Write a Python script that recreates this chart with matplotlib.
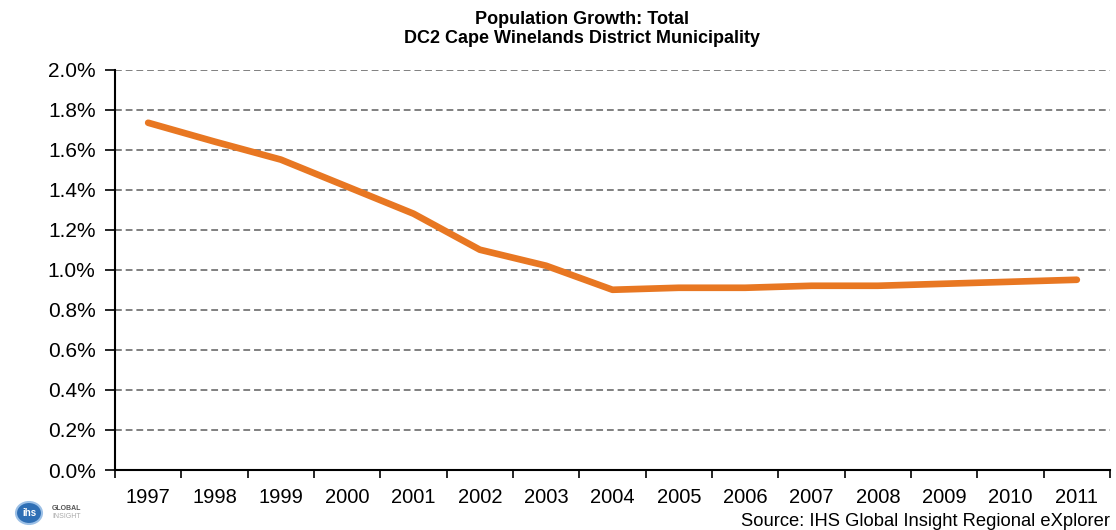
import numpy as np
import matplotlib
matplotlib.use('Agg')
import matplotlib.pyplot as plt
from matplotlib.patches import Ellipse

plt.rcParams['font.family'] = ['Liberation Sans', 'DejaVu Sans']

# ── Data ───────────────────────────────────────────────────────────
years = ['1997', '1998', '1999', '2000', '2001', '2002', '2003', '2004',
         '2005', '2006', '2007', '2008', '2009', '2010', '2011']
growth = [1.734, 1.64, 1.55, 1.415, 1.28, 1.10, 1.02, 0.90,
          0.91, 0.91, 0.92, 0.92, 0.93, 0.94, 0.95]
y_ticks = [0.0, 0.2, 0.4, 0.6, 0.8, 1.0, 1.2, 1.4, 1.6, 1.8, 2.0]

fig = plt.figure(figsize=(11.16, 5.30), dpi=100)
ax = fig.add_axes([115/1116, 60/530, 995/1116, 400.5/530])

x = np.arange(len(years))
ax.plot(x, growth, color='#E87722', lw=4.8, solid_capstyle='round',
        solid_joinstyle='round', zorder=3)

ax.set_xlim(-0.5, len(years) - 0.5)
ax.set_ylim(0, 2.0)
ax.set_yticks(y_ticks)
ax.set_yticklabels([f'{v:.1f}%' for v in y_ticks], fontsize=15)
for v in y_ticks[1:]:
    ax.axhline(v, color='#808080', lw=1.4, ls=(0, (3.5, 2)), zorder=1)

# ticks at category boundaries, labels at centers
ax.set_xticks(np.arange(-0.5, len(years), 1.0))
ax.set_xticklabels([])
ax.set_xticks(x, minor=True)
ax.set_xticklabels(years, minor=True, fontsize=14.5)
ax.tick_params(axis='x', which='major', direction='out', length=6, width=1.2)
ax.tick_params(axis='x', which='minor', length=0, pad=13)
ax.tick_params(axis='y', direction='out', length=7, width=1.2, pad=7)

for s in ['top', 'right']:
    ax.spines[s].set_visible(False)
for s in ['left', 'bottom']:
    ax.spines[s].set_linewidth(1.5)

fig.text(582/1116, 1 - 24/530, 'Population Growth: Total', ha='center',
         va='baseline', fontsize=13, fontweight='bold')
fig.text(582/1116, 1 - 43/530, 'DC2 Cape Winelands District Municipality',
         ha='center', va='baseline', fontsize=13, fontweight='bold')

fig.text(1110/1116, 1 - 521/530, 'Source: IHS Global Insight Regional eXplorer',
         ha='right', va='center', fontsize=13.2)

# logo
fig.patches.append(Ellipse((29/1116, 1 - 513/530), 26/1116, 22/530,
                           transform=fig.transFigure, facecolor='#2f6fb5',
                           edgecolor='#9cc0e6', lw=1.5))
fig.text(29/1116, 1 - 513/530, 'ihs', ha='center', va='center',
         fontsize=7, color='white', fontweight='bold')
fig.text(52/1116, 1 - 509/530, 'GLOBAL', ha='left', va='center',
         fontsize=5, color='#555555', fontweight='bold')
fig.text(52/1116, 1 - 517/530, 'INSIGHT', ha='left', va='center',
         fontsize=5, color='#aaaaaa')

fig.savefig('out.png', dpi=100)
